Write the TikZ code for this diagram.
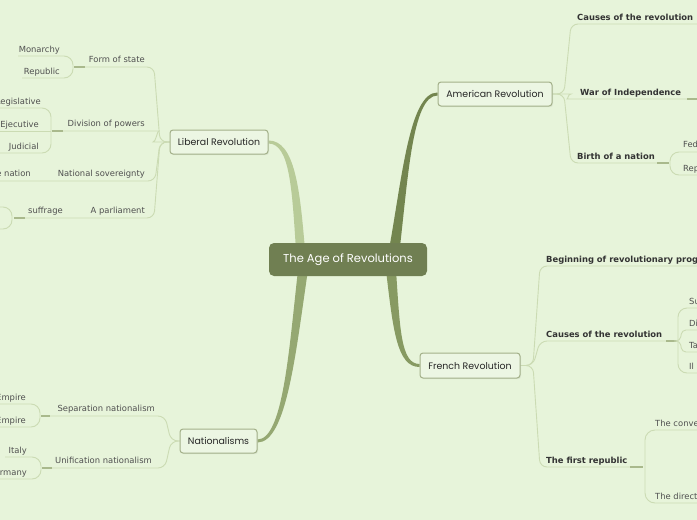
\documentclass[tikz,border=0pt]{standalone}
\usepackage{fontspec}
\setmainfont{DejaVu Sans}
\newfontfamily\handfont{Poppins}
\usetikzlibrary{shadows,calc}
\definecolor{bg}{HTML}{E7F4DA}
\definecolor{core}{HTML}{707F52}
\definecolor{brA}{HTML}{73854F}
\definecolor{brL}{HTML}{B8CB98}
\definecolor{brF}{HTML}{879A62}
\definecolor{brN}{HTML}{95A872}
\definecolor{twigc}{HTML}{CBDBB3}
\definecolor{knotc}{HTML}{A9B98C}
\definecolor{boxline}{HTML}{A3B089}
\definecolor{boxfill}{HTML}{ECF6E3}
\definecolor{txt}{HTML}{505050}
\definecolor{btxt}{HTML}{333333}
\pgfdeclarelayer{back}
\pgfsetlayers{back,main}
\tikzset{
 corenode/.style={fill=core, rounded corners=5pt, inner sep=0pt, minimum width=158pt, minimum height=33pt,
   text=white, font=\handfont\fontsize{11.5}{13}\selectfont},
 topic/.style={draw=boxline, line width=1pt, fill=boxfill, rounded corners=3pt, inner sep=0pt,
   font=\handfont\fontsize{9.4}{11}\selectfont, text=black!85,
   drop shadow={opacity=0.12, shadow xshift=1pt, shadow yshift=-1.2pt}},
 twig/.style={draw=twigc, line width=0.9pt, rounded corners=7pt},
 knot/.style={draw=knotc, line width=1.8pt},
 leaf/.style={inner sep=0pt, font=\fontsize{8.4}{10}\selectfont, text=txt},
 head/.style={inner sep=0pt, font=\bfseries\fontsize{8.4}{10}\selectfont, text=btxt},
}
\begin{document}
\begin{tikzpicture}[x=1pt,y=-1pt]
\begin{pgfonlayer}{back}
\path[use as bounding box, fill=bg] (0,0) rectangle (697,520);
\end{pgfonlayer}
\clip (0,0) rectangle (697,520);

% main nodes
\node[corenode] (c) at (348,259.5) {The Age of Revolutions};
\node[topic, minimum width=114pt, minimum height=24pt] (am) at (495,94) {American Revolution};
\node[topic, minimum width=100pt, minimum height=25pt] (fr) at (470,365.5) {French Revolution};
\node[topic, minimum width=98pt, minimum height=24pt] (lib) at (219,142) {Liberal Revolution};
\node[topic, minimum width=77pt, minimum height=24pt] (nat) at (218.5,441) {Nationalisms};

% texts, right side (American)
\node[head, anchor=base west] (amc) at (577,20) {Causes of the revolution};
\node[head, anchor=base west] (amw) at (580,95) {War of Independence};
\node[head, anchor=base west] (amb) at (577,159.5) {Birth of a nation};
\node[leaf, anchor=base west] (amb1) at (683,147.5) {Fed};
\node[leaf, anchor=base west] (amb2) at (683,171) {Rep};
% French
\node[head, anchor=base west] (frb) at (546,262) {Beginning of revolutionary prog};
\node[head, anchor=base west] (frc) at (546,337) {Causes of the revolution};
\node[leaf, anchor=base west] (frc1) at (689,304) {Su};
\node[leaf, anchor=base west] (frc2) at (689,326) {Di};
\node[leaf, anchor=base west] (frc3) at (689,348.5) {Ta};
\node[leaf, anchor=base west] (frc4) at (689,369.5) {Il};
\node[head, anchor=base west] (frr) at (546,463) {The first republic};
\node[leaf, anchor=base west] (frr1) at (655,426) {The conve};
\node[leaf, anchor=base west] (frr2) at (655,499) {The directo};
% Liberal
\node[leaf, anchor=base east] (lf) at (145,62.5) {Form of state};
\node[leaf, anchor=base east] (lf1) at (60,52) {Monarchy};
\node[leaf, anchor=base east] (lf2) at (60,74.5) {Republic};
\node[leaf, anchor=base east] (ld) at (145,126.5) {Division of powers};
\node[leaf, anchor=base east] (ld1) at (41,104) {Legislative};
\node[leaf, anchor=base east] (ld2) at (39,127) {Ejecutive};
\node[leaf, anchor=base east] (ld3) at (39,149) {Judicial};
\node[leaf, anchor=base east] (ln) at (145,176.5) {National sovereignty};
\node[leaf, anchor=base east] (ln1) at (31,176.5) {e nation};
\node[leaf, anchor=base east] (lp) at (145,213.5) {A parliament};
\node[leaf, anchor=base east] (lp1) at (63,213.5) {suffrage};
% Nationalisms
\node[leaf, anchor=base east] (ns) at (155,411.5) {Separation nationalism};
\node[leaf, anchor=base east] (ns1) at (26,400) {Empire};
\node[leaf, anchor=base east] (ns2) at (26,423) {Empire};
\node[leaf, anchor=base east] (nu) at (152,463.5) {Unification nationalism};
\node[leaf, anchor=base east] (nu1) at (27,453) {Italy};
\node[leaf, anchor=base east] (nu2) at (27,475.5) {ermany};

\begin{pgfonlayer}{back}
% thick tapered branches
\fill[brA] (388,255) .. controls (402,180) and (409,92.5) .. ($(am.west)+(0,-1.5)$)
  -- ($(am.west)+(0,1.5)$) .. controls (412,95.5) and (408,180) .. (399,255) -- cycle;
\fill[brL] (296,250) .. controls (292,190) and (290,143.5) .. ($(lib.east)+(0,1.5)$)
  -- ($(lib.east)+(0,-1.5)$) .. controls (295,140.5) and (300,190) .. (305,250) -- cycle;
\fill[brF] (386,270) .. controls (393,330) and (397,367) .. ($(fr.west)+(0,1.5)$)
  -- ($(fr.west)+(0,-1.5)$) .. controls (401,364) and (400,330) .. (396,270) -- cycle;
\fill[brN] (298,270) .. controls (289,350) and (283,439.5) .. ($(nat.east)+(0,-1.5)$)
  -- ($(nat.east)+(0,1.5)$) .. controls (287,442.5) and (296,350) .. (308,270) -- cycle;

% American twigs
\draw[twig] (am.east) -- (564,94) -- (571,24) -- (697,24);
\draw[twig] (am.east) -- (564,94) .. controls (568,94) and (568,99) .. (574,99) -- (687,99);
\draw[knot] (687,99) -- (697,99);
\draw[twig] (am.east) -- (564,94) -- (571,163) -- (657,163);
\draw[knot] (657,163) -- (669,163);
\draw[twig, rounded corners=9pt] (697,152) -- (670,152) -- (670,175) -- (697,175);

% French twigs
\draw[twig] (fr.east) -- (533,365.5) -- (540,266) -- (697,266);
\draw[twig] (fr.east) -- (533,365.5) -- (540,341) -- (666,341);
\draw[knot] (666,341) -- (677,341);
\draw[twig, rounded corners=9pt] (697,308) -- (678,308) -- (678,373) -- (697,373);
\draw[twig, rounded corners=4pt] (677,341) -- (680,341) -- (682,330) -- (697,330);
\draw[twig, rounded corners=4pt] (677,341) -- (680,341) -- (682,352) -- (697,352);
\draw[twig] (fr.east) -- (533,365.5) -- (540,467) -- (630,467);
\draw[knot] (630,467) -- (643,467);
\draw[twig, rounded corners=10pt] (697,430) -- (645,430) -- (645,503) -- (697,503);

% Liberal twigs
\draw[twig] (lib.west) -- (160,142) -- (154,67) -- (85,67);
\draw[knot] (85,67) -- (74,67);
\draw[twig, rounded corners=9pt] (18,56) -- (73,56) -- (73,78) -- (22,78);
\draw[twig] (lib.west) -- (160,142) .. controls (156,142) and (157,131) .. (152,131) -- (63,131);
\draw[knot] (63,131) -- (52,131);
\draw[twig, rounded corners=9pt] (0,108) -- (51,108) -- (51,153) -- (0,153);
\draw[twig] (51,131) -- (0,131);
\draw[twig] (lib.west) -- (160,142) -- (155,181) -- (0,181);
\draw[twig] (lib.west) -- (160,142) -- (154,218) -- (25,218);
\draw[knot] (25,218) -- (14,218);
\draw[twig, rounded corners=9pt] (0,207) -- (12,207) -- (12,229) -- (0,229);

% Nationalisms twigs
\draw[twig] (nat.west) -- (171,441) -- (165,416) -- (50,416);
\draw[knot] (50,416) -- (41,416);
\draw[twig, rounded corners=9pt] (0,404) -- (40,404) -- (40,427) -- (0,427);
\draw[twig] (nat.west) -- (171,441) -- (165,468) -- (52,468);
\draw[knot] (52,468) -- (42,468);
\draw[twig, rounded corners=9pt] (5,457) -- (41,457) -- (41,479) -- (0,479);
\end{pgfonlayer}
\end{tikzpicture}
\end{document}
